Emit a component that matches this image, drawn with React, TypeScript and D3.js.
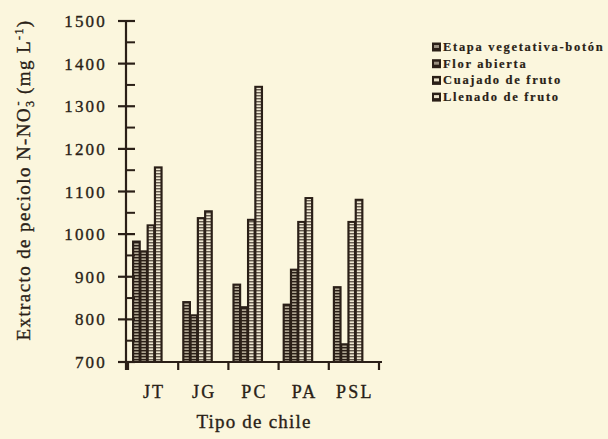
import React from "react";
import * as d3 from "d3";

const categories = ["JT", "JG", "PC", "PA", "PSL"];
const seriesNames = ["Etapa vegetativa-botón", "Flor abierta", "Cuajado de fruto", "Llenado de fruto"];
const etapa = [985, 843, 884, 837, 878];
const flor = [962, 812, 831, 919, 744];
const cuajado = [1023, 1040, 1036, 1031, 1031];
const llenado = [1159, 1056, 1348, 1087, 1083];
const yTicks = [700, 800, 900, 1000, 1100, 1200, 1300, 1400, 1500];
const yMinorTicks = [750, 850, 950, 1050, 1150, 1250, 1350, 1450];

const W = 608;
const H = 439;
const BG = "#fbf6dd";
const INK = "#2a1f17";
const FONT = "'Liberation Serif', 'Times New Roman', serif";

export default function App() {
  const seriesData = [etapa, flor, cuajado, llenado];
  const x = d3.scaleBand<string>().domain(categories).range([128, 379]).paddingInner(0).paddingOuter(0);
  const bw = x.bandwidth();
  const xi = d3.scaleBand<number>().domain([0, 1, 2, 3]).range([bw * 0.08, bw * 0.66]);
  const y = d3.scaleLinear().domain([700, 1500]).range([362, 21]);
  const barW = xi.bandwidth() + 1.5;
  const txt = { fontFamily: FONT, fill: INK, stroke: INK, strokeWidth: 0.35 };

  return (
    <svg width={W} height={H} style={{ position: "absolute", left: 0, top: 0, background: BG }}>
      <defs>
        <pattern id="dark" width="4" height="3" patternUnits="userSpaceOnUse">
          <rect width="4" height="3" fill={INK} />
          <rect x="0" y="0.5" width="4" height="1.3" fill="#d0c7b0" />
        </pattern>
        <pattern id="light" width="4" height="3" patternUnits="userSpaceOnUse">
          <rect width="4" height="3" fill={INK} />
          <rect x="0" y="0.3" width="4" height="2" fill="#efe8d2" />
        </pattern>
      </defs>
      <rect width={W} height={H} fill={BG} />

      {/* bars */}
      {categories.map((c, ci) =>
        seriesData.map((vals, si) => {
          const bx = (x(c) ?? 0) + (xi(si) ?? 0);
          const by = y(vals[ci]);
          const bh = y(700) - by;
          const pat = si < 2 ? "url(#dark)" : "url(#light)";
          return (
            <g key={c + si}>
              <rect x={bx} y={by} width={barW} height={bh} fill={INK} />
              <rect x={bx + 2.2} y={by + 2} width={barW - 4.4} height={bh - 2} fill={pat} />
            </g>
          );
        })
      )}

      {/* y axis */}
      <line x1={126} x2={126} y1={y(1500) - 1} y2={370} stroke={INK} strokeWidth={2.2} />
      {yTicks.map((t) => (
        <g key={t}>
          <line x1={118} x2={135} y1={y(t)} y2={y(t)} stroke={INK} strokeWidth={2.2} />
          <text x={107} y={y(t) + 6} textAnchor="end" fontSize={17} letterSpacing={2.2} {...txt}>
            {t}
          </text>
        </g>
      ))}
      {yMinorTicks.map((t) => (
        <line key={t} x1={126} x2={135} y1={y(t)} y2={y(t)} stroke={INK} strokeWidth={2} />
      ))}

      {/* x axis */}
      <line x1={122} x2={382} y1={362} y2={362} stroke={INK} strokeWidth={2.2} />
      {[...categories.map((c) => x(c) ?? 0), 379].map((tx, i) => (
        <line key={i} x1={tx} x2={tx} y1={362} y2={370} stroke={INK} strokeWidth={2.2} />
      ))}
      {categories.map((c) => (
        <text key={c} x={(x(c) ?? 0) + bw / 2 + 1} y={398} textAnchor="middle" fontSize={18} letterSpacing={2.2} {...txt}>
          {c}
        </text>
      ))}
      <text x={254} y={428} textAnchor="middle" fontSize={19} letterSpacing={1.2} {...txt}>
        Tipo de chile
      </text>

      {/* y title */}
      <text transform="translate(30,180) rotate(-90)" textAnchor="middle" fontSize={19} letterSpacing={1.4} {...txt}>
        Extracto de peciolo N-NO
        <tspan fontSize={12} dy={4}>3</tspan>
        <tspan fontSize={12} dy={-12} dx={-6}>-</tspan>
        <tspan dy={8}> (mg L</tspan>
        <tspan fontSize={12} dy={-7}>-1</tspan>
        <tspan dy={7}>)</tspan>
      </text>

      {/* legend */}
      {seriesNames.map((s, i) => {
        const ry = 47 + i * 16.7;
        return (
          <g key={s}>
            <rect x={432} y={ry - 4.5} width={9} height={9} fill={INK} />
            <rect x={434} y={ry - 2} width={5} height={3} fill={i < 2 ? "#9a9080" : "#e8e0c8"} />
            <text x={443} y={ry + 4} fontSize={12.5} fontWeight="bold" letterSpacing={1.7} {...txt} strokeWidth={0.2}>
              {s}
            </text>
          </g>
        );
      })}
    </svg>
  );
}
